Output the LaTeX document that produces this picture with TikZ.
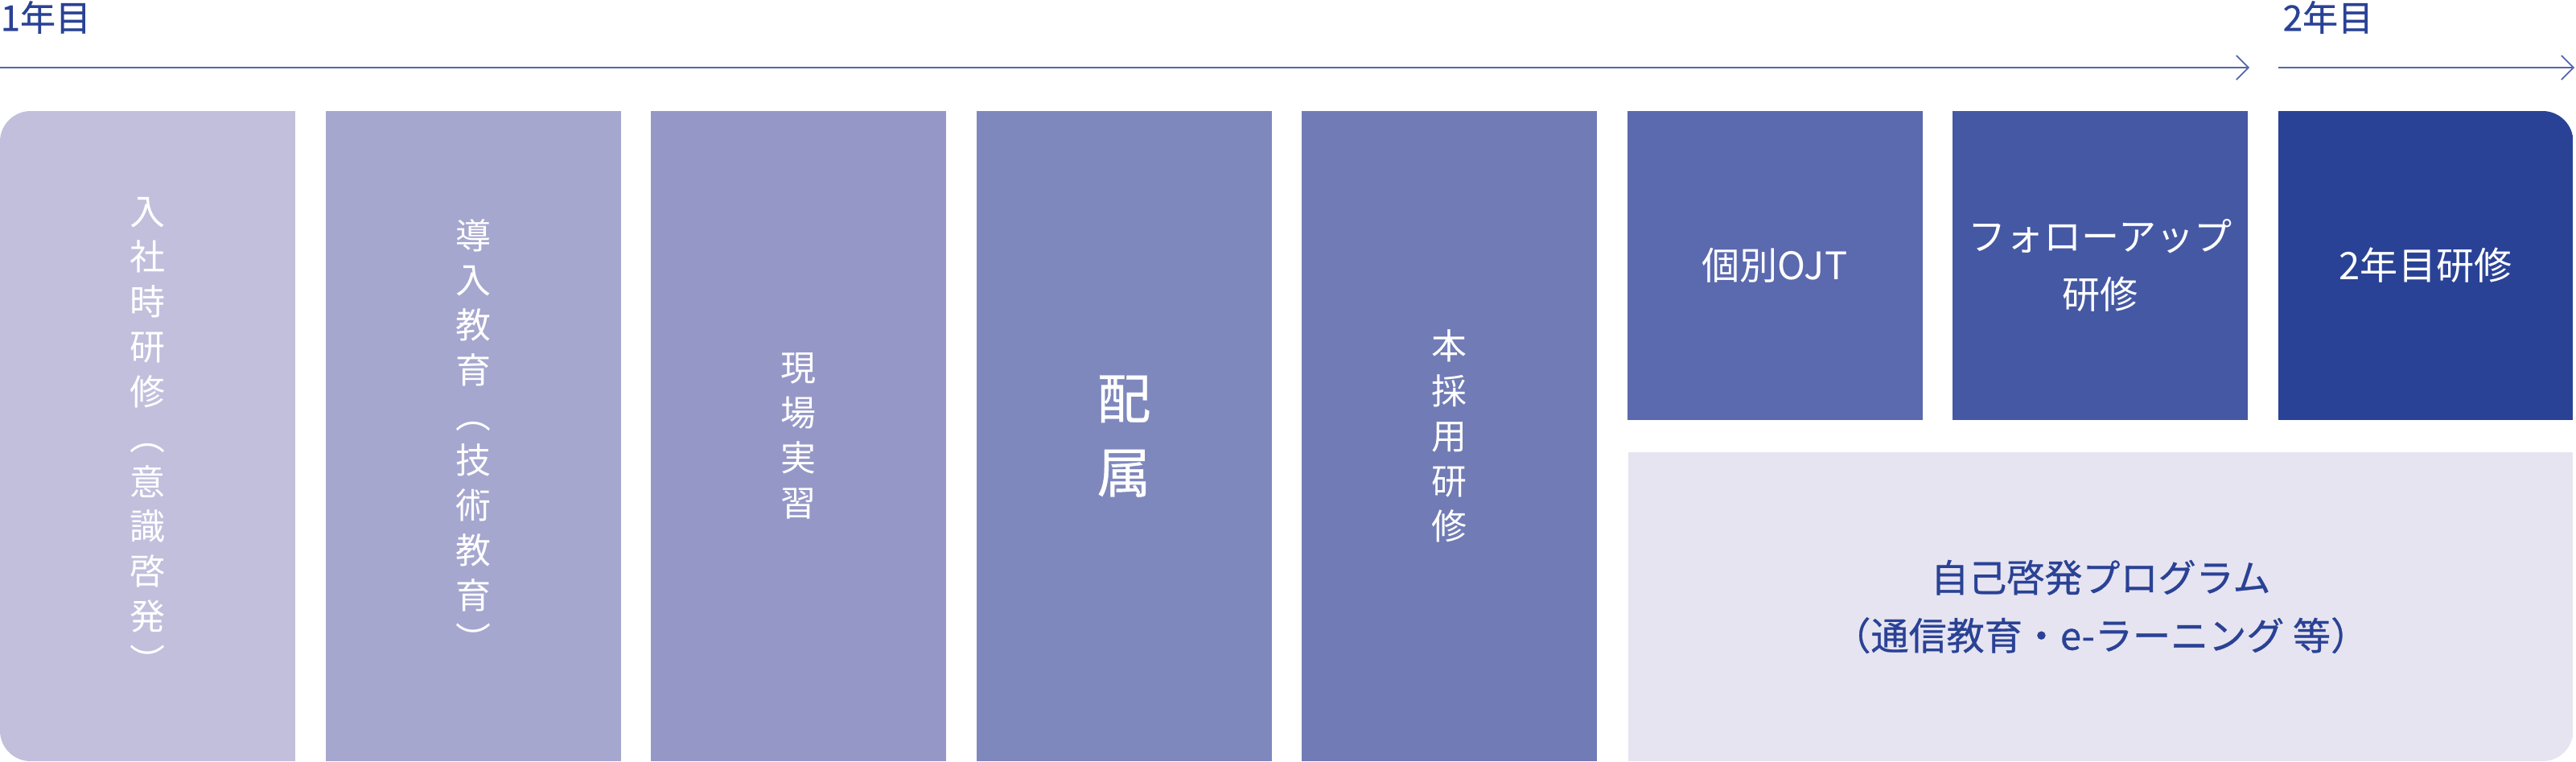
\documentclass[tikz,border=0pt]{standalone}
\usepackage{fontspec}
\setmainfont{Noto Sans CJK JP}
\newfontfamily\jpmid{Noto Sans CJK JP}[FakeBold=0.6]
\usetikzlibrary{arrows.meta}

\definecolor{tileA}{HTML}{C2BFDD}
\definecolor{tileB}{HTML}{A6A7CF}
\definecolor{tileC}{HTML}{9598C7}
\definecolor{tileD}{HTML}{7F88BD}
\definecolor{tileE}{HTML}{717BB5}
\definecolor{tileF}{HTML}{5B69AE}
\definecolor{tileG}{HTML}{4558A3}
\definecolor{tileH}{HTML}{2A4295}
\definecolor{selfbg}{HTML}{E6E4F1}
\definecolor{navy}{HTML}{2A4295}
\definecolor{lineblue}{HTML}{5566AE}

\tikzset{
  tile/.style={rectangle, inner sep=0pt, minimum width=3.67cm, text=white, align=center},
  tallbox/.style={tile, minimum height=8.08cm, font=\fontsize{12.5}{15.9}\selectfont},
  shortbox/.style={tile, minimum height=3.835cm, font=\fontsize{13.4}{20.5}\selectfont},
  yearlabel/.style={anchor=west, inner sep=0pt, text=navy, font=\jpmid\fontsize{12.5}{15}\selectfont},
  timeline/.style={lineblue, line width=0.5pt, -{Straight Barb[length=1.5mm, width=3mm]}}
}

\begin{document}
\begin{tikzpicture}
    \useasboundingbox (0,0) rectangle (32.02,9.46);

    % Year headings and time arrows
    \node[yearlabel] (firstyear) at (0,9.245) {1年目};
    \node[yearlabel] (secondyear) at (28.37,9.245) {2年目};
    \coordinate (firststart) at (0,8.62);
    \coordinate (firstend) at (27.96,8.62);
    \coordinate (secondstart) at (28.315,8.62);
    \coordinate (secondend) at (32.0,8.62);
    \draw[timeline] (firststart) -- (firstend);
    \draw[timeline] (secondstart) -- (secondend);

    % Programme tiles, outer corners rounded by the clip
    \begin{scope}
        \clip[rounded corners=0.38cm] (0,0) rectangle (31.985,8.08);

        \node[tallbox, fill=tileA] (entry) at (1.835,4.04)
            {入\\社\\時\\研\\修\\︵\\意\\識\\啓\\発\\︶};
        \node[tallbox, fill=tileB] (intro) at (5.88,4.04)
            {導\\入\\教\\育\\︵\\技\\術\\教\\育\\︶};
        \node[tallbox, fill=tileC] (onsite) at (9.925,4.04)
            {現\\場\\実\\習};
        \node[tallbox, fill=tileD, font=\jpmid\fontsize{19}{26.2}\selectfont] (assign) at (13.97,4.04)
            {配\\属};
        \node[tallbox, fill=tileE] (formal) at (18.015,4.04)
            {本\\採\\用\\研\\修};

        \node[shortbox, fill=tileF] (ojt) at (22.06,6.1625) {個別OJT};
        \node[shortbox, fill=tileG] (followup) at (26.105,6.1625) {フォローアップ\\研修};
        \node[shortbox, fill=tileH] (yeartwo) at (30.15,6.1625) {2年目研修};

        % Self-development spans the last three columns
        \node[tile, fill=selfbg, text=navy, minimum width=11.745cm, minimum height=3.84cm,
              font=\jpmid\fontsize{13.4}{20.5}\selectfont] (selfdev) at (26.1125,1.92)
            {自己啓発プログラム\\（通信教育・e-ラーニング 等）};
    \end{scope}
\end{tikzpicture}
\end{document}
